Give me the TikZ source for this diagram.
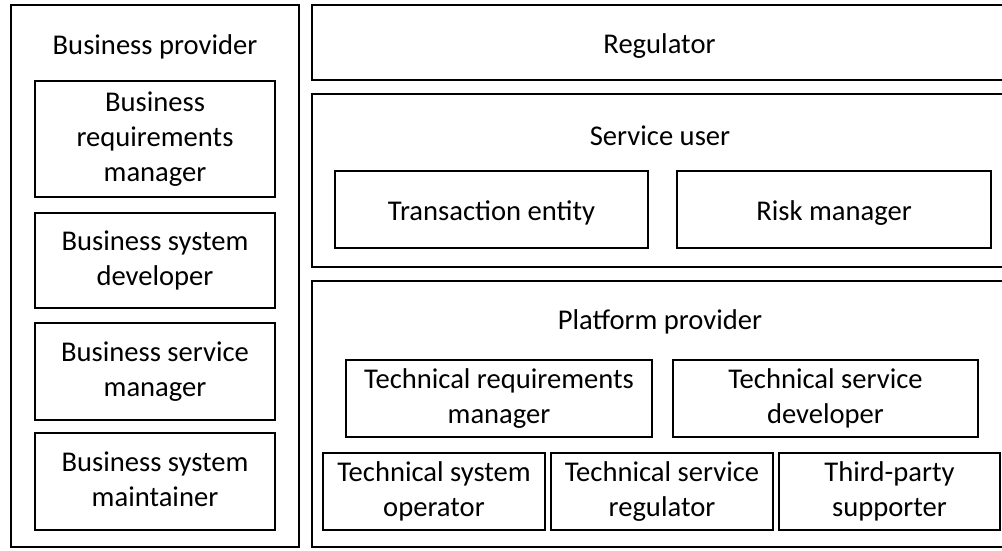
\documentclass[tikz,border=0pt]{standalone}
\usepackage{fontspec}
\setmainfont{Carlito}
% fixed line height so every label sits at the same place in its box
\newcommand{\linestrut}{\rule[-5pt]{0pt}{32pt}}
\begin{document}
\begin{tikzpicture}[x=1pt,y=-1pt,
  label text/.style={font=\fontsize{28.6}{35}\selectfont,
    execute at begin node=\linestrut,execute at end node=\linestrut},
  rolebox/.style={label text,draw=black,line width=2.6pt,rectangle,inner sep=0pt,
    outer sep=0pt,align=center},
  title/.style={label text,inner sep=0pt}]
\useasboundingbox (0,0) rectangle (1002,550);
% box given by its corners: name, x1, y1, x2, y2, text
\newcommand{\rolebox}[6]{%
  \node[rolebox,minimum width={#4-#2},minimum height={#5-#3}]
    (#1) at ({(#2+#4)/2},{(#3+#5)/2}) {#6};}

% business provider column
\rolebox{bp}{11}{5}{299}{547}{}
\node[title] (bpt) at (155,43) {Business provider};
\rolebox{brm}{35}{81}{275}{197}{Business\\requirements\\manager}
\rolebox{bsd}{35}{213}{275}{308}{Business system\\developer}
\rolebox{bsm}{35}{323}{275}{420}{Business service\\manager}
\rolebox{bsmt}{35}{433}{275}{530}{Business system\\maintainer}

% regulator
\rolebox{reg}{312}{5}{1007}{80}{Regulator}

% service user
\rolebox{su}{312}{94}{1007}{267}{}
\node[title] (sut) at (660,134) {Service user};
\rolebox{te}{335}{171}{648}{248}{Transaction entity}
\rolebox{rm}{677}{171}{991}{248}{Risk manager}

% platform provider
\rolebox{pp}{312}{281}{1007}{547}{}
\node[title] (ppt) at (660,318) {Platform provider};
\rolebox{trm}{346}{360}{652}{437}{Technical requirements\\manager}
\rolebox{tsd}{673}{360}{978}{437}{Technical service\\developer}
\rolebox{tso}{323}{453}{545}{530}{Technical system\\operator}
\rolebox{tsr}{551}{453}{773}{530}{Technical service\\regulator}
\rolebox{tps}{779}{453}{1000}{530}{Third-party\\supporter}
\end{tikzpicture}
\end{document}
